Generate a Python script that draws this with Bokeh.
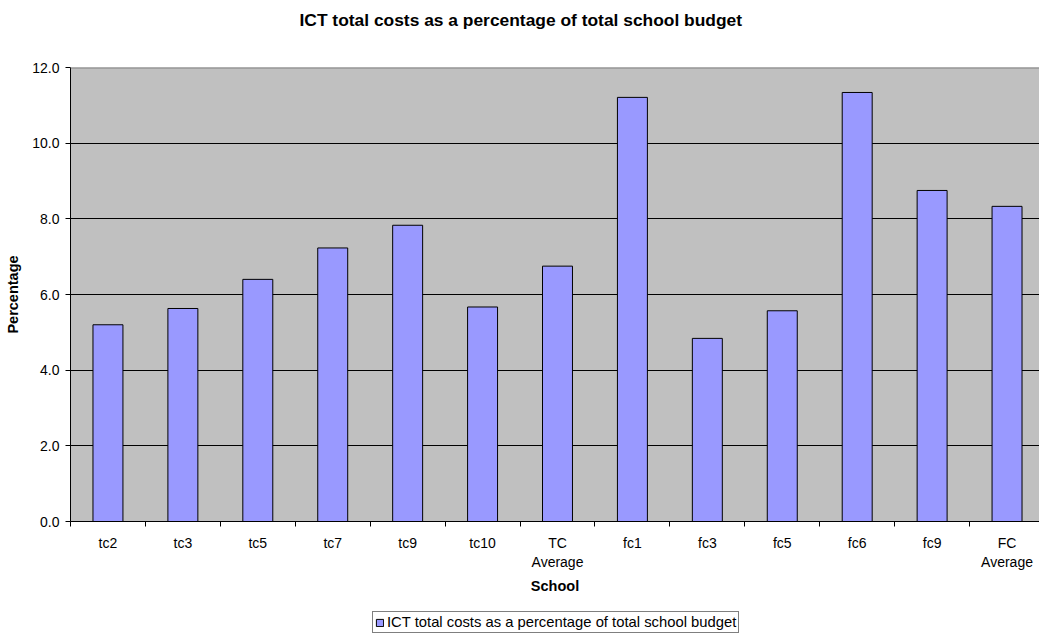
from bokeh.plotting import figure
from bokeh.layouts import column
from bokeh.models import (Range1d, FixedTicker, Span, Legend, LegendItem,
                          ColumnDataSource, Title)
from bokeh.embed import file_html
from bokeh.resources import INLINE

schools = ["tc2", "tc3", "tc5", "tc7", "tc9", "tc10", "TC\nAverage",
           "fc1", "fc3", "fc5", "fc6", "fc9", "FC\nAverage"]
pct = [5.20, 5.63, 6.40, 7.23, 7.83, 5.67, 6.75, 11.21, 4.84, 5.57, 11.34, 8.75, 8.33]
y_ticks = [0, 2, 4, 6, 8, 10, 12]
y_tick_labels = ["0.0", "2.0", "4.0", "6.0", "8.0", "10.0", "12.0"]
series_name = "ICT total costs as a percentage of total school budget"
title_text = "ICT total costs as a percentage of total school budget"

FONT = "Liberation Sans"
BAR_FILL = "#9999FF"
n = len(schools)
centers = [i + 0.5 for i in range(n)]
bounds = list(range(n + 1))

src = ColumnDataSource(dict(x=centers, pct=pct, school=schools))

p = figure(width=1039, height=611, title=None,
           output_backend="svg", toolbar_location=None,
           x_range=Range1d(0, n - 5 / 75), y_range=Range1d(0, 12),
           min_border_left=70, min_border_right=0, min_border_top=67,
           min_border_bottom=90,
           background_fill_color="#C0C0C0", border_fill_color="white",
           outline_line_color=None)

# spacer between frame and title (closest to the frame)
p.add_layout(Title(text=" ", text_font_size="1px", standoff=24), "above")
p.add_layout(Title(text=title_text, align="left", offset=229, vertical_align="top",
                   text_font=FONT, text_font_size="17.4px", text_font_style="bold",
                   text_color="black", standoff=18), "above")

r = p.vbar(x="x", top="pct", width=0.4, bottom=0, source=src,
           fill_color=BAR_FILL, line_color="black", line_width=1)

# x axis: ticks at category boundaries, labels at centers
xa = p.xaxis[0]
xa.ticker = FixedTicker(ticks=centers, minor_ticks=bounds)
xa.major_label_overrides = {c: s for c, s in zip(centers, schools)}
xa.major_tick_out = 0
xa.major_tick_in = 0
xa.minor_tick_out = 5
xa.minor_tick_in = 0
xa.minor_tick_line_color = "black"
xa.axis_line_color = "black"
xa.major_label_text_font = FONT
xa.major_label_text_font_size = "14px"
xa.major_label_text_color = "black"
xa.major_label_standoff = 8
xa.axis_label = "School"
xa.axis_label_text_font = FONT
xa.axis_label_text_font_size = "14.5px"
xa.axis_label_text_font_style = "bold"
xa.axis_label_text_color = "black"
xa.axis_label_standoff = 5

ya = p.yaxis[0]
ya.ticker = FixedTicker(ticks=y_ticks)
ya.major_label_overrides = {t: s for t, s in zip(y_ticks, y_tick_labels)}
ya.major_tick_out = 5
ya.major_tick_in = 0
ya.minor_tick_out = 0
ya.minor_tick_in = 0
ya.axis_line_color = "black"
ya.major_tick_line_color = "black"
ya.major_label_text_font = FONT
ya.major_label_text_font_size = "14px"
ya.major_label_text_color = "black"
ya.major_label_standoff = 6
ya.axis_label = "Percentage"
ya.axis_label_text_font = FONT
ya.axis_label_text_font_size = "14.5px"
ya.axis_label_text_font_style = "bold"
ya.axis_label_text_color = "black"
ya.axis_label_standoff = 8

p.xgrid.grid_line_color = None
p.ygrid.grid_line_color = "black"
p.ygrid.grid_line_width = 1

p.add_layout(Span(location=12, dimension="width", line_color="#808080", line_width=2))

# legend strip below the chart (its proxy bars fall outside the strip's ranges)
lg = figure(width=1039, height=24, title=None, output_backend="svg",
            toolbar_location=None, x_axis_location=None, y_axis_location=None,
            x_range=Range1d(-100, -99), y_range=Range1d(-100, -99),
            min_border=0, min_border_left=0, min_border_right=0,
            min_border_top=0, min_border_bottom=0,
            background_fill_color="white", border_fill_color="white",
            outline_line_color=None)
lg.xgrid.grid_line_color = None
lg.ygrid.grid_line_color = None
lr = lg.vbar(x="x", top="pct", width=0.4, bottom=0, source=src,
             fill_color=BAR_FILL, line_color="black", line_width=1)

legend = Legend(items=[LegendItem(label=series_name, renderers=[lr])],
                location=(302, 2), orientation="horizontal",
                label_text_font=FONT, label_text_font_size="14.8px",
                label_text_color="black",
                glyph_width=9, glyph_height=9, label_standoff=3,
                padding=2, margin=0, spacing=0,
                border_line_color="black", border_line_width=1,
                background_fill_color="white", background_fill_alpha=1,
                label_height=14)
lg.add_layout(legend)

layout = column(p, lg, spacing=0)

open("out.html", "w").write(file_html(layout, INLINE))
